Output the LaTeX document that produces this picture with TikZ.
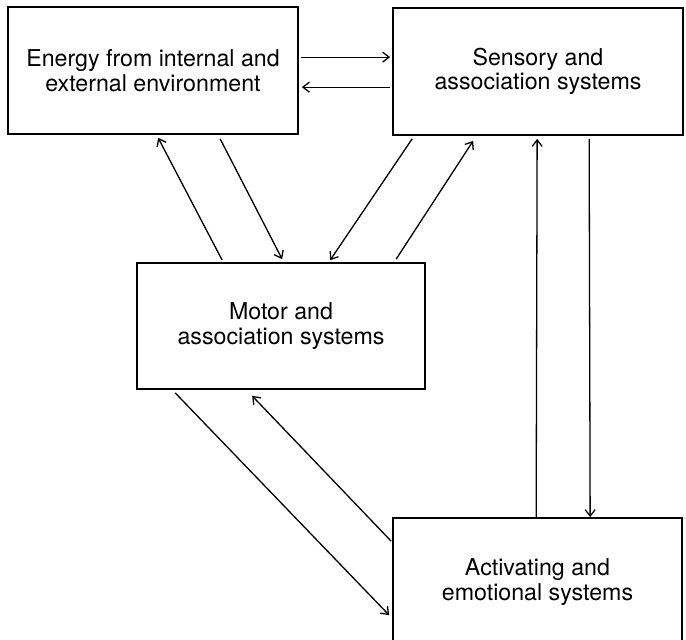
\documentclass[tikz,border=0pt]{standalone}
\usepackage{fontspec}
\setmainfont{TeX Gyre Heros}
\usetikzlibrary{arrows.meta}
\tikzset{
  sysbox/.style={draw, line width=1.7pt, rectangle, align=center, inner sep=0pt,
    font=\fontsize{23.2}{24.5}\selectfont},
  conn/.style={line width=1.3pt, -{Straight Barb[length=6.5pt,width=10pt,line width=1.3pt]}}
}
\begin{document}
\begin{tikzpicture}[x=1pt,y=-1pt]
\useasboundingbox (0,0) rectangle (686,640);
\node[sysbox, minimum width=290pt, minimum height=127pt] (b1) at (153,70.5) {Energy from internal and\\external environment};
\node[sysbox, minimum width=290pt, minimum height=127pt] (b2) at (538,71.5) {Sensory and\\association systems};
\node[sysbox, minimum width=288pt, minimum height=126pt] (b3) at (281,326) {Motor and\\association systems};
\node[sysbox, minimum width=289pt, minimum height=128pt] (b4) at (537.5,582) {Activating and\\emotional systems};
% top pair
\draw[conn] ([xshift=2pt,yshift=-51pt]b1.north east) -- ([xshift=-2pt,yshift=-50pt]b2.north west);
\draw[conn] ([xshift=-2pt,yshift=-80pt]b2.north west) -- ([xshift=3pt,yshift=-81pt]b1.north east);
% b1 <-> b3
\draw[conn] ([xshift=86pt,yshift=2pt]b3.north west) -- ([xshift=151pt,yshift=-3pt]b1.south west);
\draw[conn] ([xshift=213pt,yshift=-4pt]b1.south west) -- ([xshift=146pt,yshift=3pt]b3.north west);
% b2 <-> b3
\draw[conn] ([xshift=20pt,yshift=-3pt]b2.south west) -- ([xshift=194pt,yshift=2pt]b3.north west);
\draw[conn] ([xshift=260pt,yshift=3pt]b3.north west) -- ([xshift=81pt,yshift=-5pt]b2.south west);
% b3 <-> b4
\draw[conn] ([xshift=39pt,yshift=-3pt]b3.south west) -- ([xshift=-3pt,yshift=-98pt]b4.north west);
\draw[conn] ([xshift=-1pt,yshift=-24pt]b4.north west) -- ([xshift=116pt,yshift=-6pt]b3.south west);
% b2 <-> b4
\draw[conn] ([xshift=144pt]b4.north west) -- ([xshift=145pt,yshift=-3pt]b2.south west);
\draw[conn] ([xshift=197pt,yshift=-3pt]b2.south west) -- ([xshift=198pt]b4.north west);
\end{tikzpicture}
\end{document}
